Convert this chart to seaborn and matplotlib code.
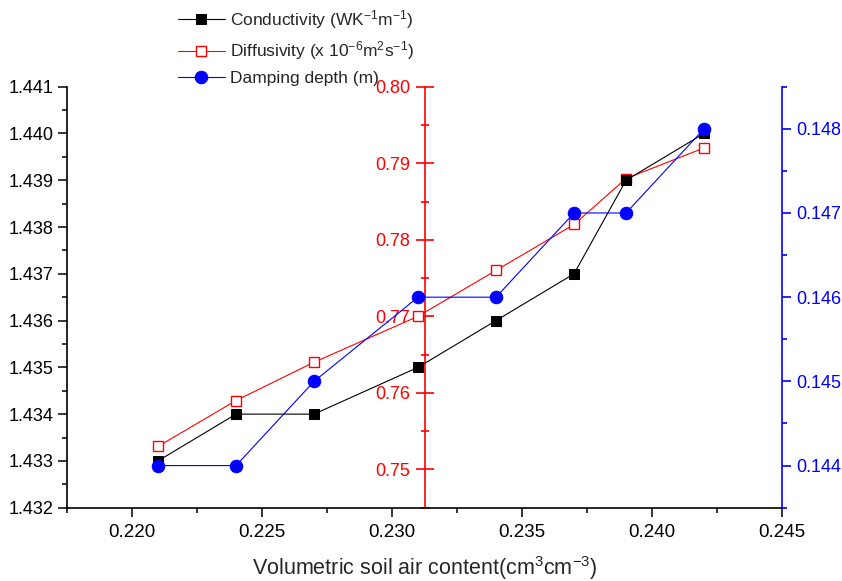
import matplotlib
matplotlib.use("Agg")
import matplotlib.pyplot as plt
import seaborn as sns
from matplotlib.ticker import MultipleLocator, FormatStrFormatter

# Soil thermal properties against volumetric air content
air_content = [0.221, 0.224, 0.227, 0.231, 0.234, 0.237, 0.239, 0.242]
conductivity = [1.433, 1.434, 1.434, 1.435, 1.436, 1.437, 1.439, 1.440]
diffusivity = [0.753, 0.759, 0.764, 0.770, 0.776, 0.782, 0.788, 0.792]
damping_depth = [0.144, 0.144, 0.145, 0.146, 0.146, 0.147, 0.147, 0.148]

series_labels = [
    "Conductivity (WK$^{-1}$m$^{-1}$)",
    "Diffusivity (x 10$^{-6}$m$^{2}$s$^{-1}$)",
    "Damping depth (m)",
]
x_label = "Volumetric soil air content(cm$^{3}$cm$^{-3}$)"

sns.set_style("ticks")
plt.rcParams["font.family"] = ["Liberation Sans", "DejaVu Sans"]
plt.rcParams["mathtext.default"] = "regular"

fig = plt.figure(figsize=(8.42, 5.81), dpi=100)
fig.patch.set_facecolor("white")
ax = fig.add_axes([0.0796, 0.1262, 0.8492, 0.7246])
ax_d = ax.twinx()
ax_z = ax.twinx()

for a in (ax, ax_d, ax_z):
    a.patch.set_visible(False)
ax_d.set_zorder(1)
ax.set_zorder(2)
ax_z.set_zorder(3)

sns.lineplot(x=air_content, y=conductivity, ax=ax, color="black", marker="s",
             markersize=7, markeredgecolor="black", linewidth=0.8, label=series_labels[0])
sns.lineplot(x=air_content, y=diffusivity, ax=ax_d, color="red", marker="s",
             markersize=7.5, markerfacecolor="white", markeredgecolor="red",
             markeredgewidth=1.0, linewidth=0.8, label=series_labels[1])
sns.lineplot(x=air_content, y=damping_depth, ax=ax_z, color="blue", marker="o",
             markersize=9, markeredgecolor="blue", linewidth=0.8, label=series_labels[2])

handles, labels = [], []
for a in (ax, ax_d, ax_z):
    h, l = a.get_legend_handles_labels()
    handles += h
    labels += l
    if a.get_legend() is not None:
        a.get_legend().remove()

ax.set_xlim(0.2175, 0.245)
ax.set_ylim(1.432, 1.441)
ax_d.set_ylim(0.745, 0.80)
ax_z.set_ylim(0.1435, 0.1485)

# Main axes: left and bottom spines only
ax.spines["top"].set_visible(False)
ax.spines["right"].set_visible(False)
for s in ("left", "bottom"):
    ax.spines[s].set_linewidth(1.2)
    ax.spines[s].set_color("black")
ax.xaxis.set_major_locator(MultipleLocator(0.005))
ax.xaxis.set_minor_locator(MultipleLocator(0.0025))
ax.xaxis.set_major_formatter(FormatStrFormatter("%.3f"))
ax.yaxis.set_major_locator(MultipleLocator(0.001))
ax.yaxis.set_minor_locator(MultipleLocator(0.0005))
ax.yaxis.set_major_formatter(FormatStrFormatter("%.3f"))
ax.tick_params(axis="y", which="major", direction="out", length=6.5, width=1.1,
               labelsize=13, pad=3.5, colors="black")
ax.tick_params(axis="y", which="minor", direction="out", length=3.5, width=1.1, colors="black")
ax.tick_params(axis="x", which="major", direction="out", length=6.5, width=1.1,
               labelsize=13.5, pad=5, colors="black")
ax.tick_params(axis="x", which="minor", direction="out", length=3.5, width=1.1, colors="black")
ax.set_xlabel(x_label, fontsize=15.5, labelpad=10)
ax.set_ylabel("")

# Diffusivity axis: red spine through the middle of the plot
for s in ("top", "right", "bottom"):
    ax_d.spines[s].set_visible(False)
ax_d.spines["left"].set_visible(True)
ax_d.spines["left"].set_position(("axes", 0.5))
ax_d.spines["left"].set_color("red")
ax_d.spines["left"].set_linewidth(1.2)
ax_d.yaxis.tick_left()
ax_d.yaxis.set_major_locator(MultipleLocator(0.01))
ax_d.yaxis.set_minor_locator(MultipleLocator(0.005))
ax_d.yaxis.set_major_formatter(FormatStrFormatter("%.2f"))
ax_d.tick_params(axis="y", which="major", direction="inout", length=13, width=1.2,
                 labelsize=13, pad=4, colors="red")
ax_d.tick_params(axis="y", which="minor", direction="inout", length=6.3, width=1.2, colors="red")
ax_d.set_ylabel("")

# Damping depth axis: blue spine on the right
for s in ("top", "left", "bottom"):
    ax_z.spines[s].set_visible(False)
ax_z.spines["right"].set_color("blue")
ax_z.spines["right"].set_linewidth(1.2)
ax_z.yaxis.set_major_locator(MultipleLocator(0.001))
ax_z.yaxis.set_minor_locator(MultipleLocator(0.0005))
ax_z.yaxis.set_major_formatter(FormatStrFormatter("%.3f"))
ax_z.tick_params(axis="y", which="major", direction="out", length=6.5, width=1.2,
                 labelsize=13, pad=3.5, colors="blue")
ax_z.tick_params(axis="y", which="minor", direction="out", length=3.5, width=1.2, colors="blue")
ax_z.set_ylabel("")

fig.legend(handles, labels, loc="upper left", bbox_to_anchor=(178 / 842, 1 - 8 / 581),
           frameon=False, borderpad=0, borderaxespad=0, handlelength=2.7,
           handletextpad=0.3, labelspacing=0.5, prop={"size": 12.5})

fig.savefig("out.png", dpi=100, facecolor="white")
